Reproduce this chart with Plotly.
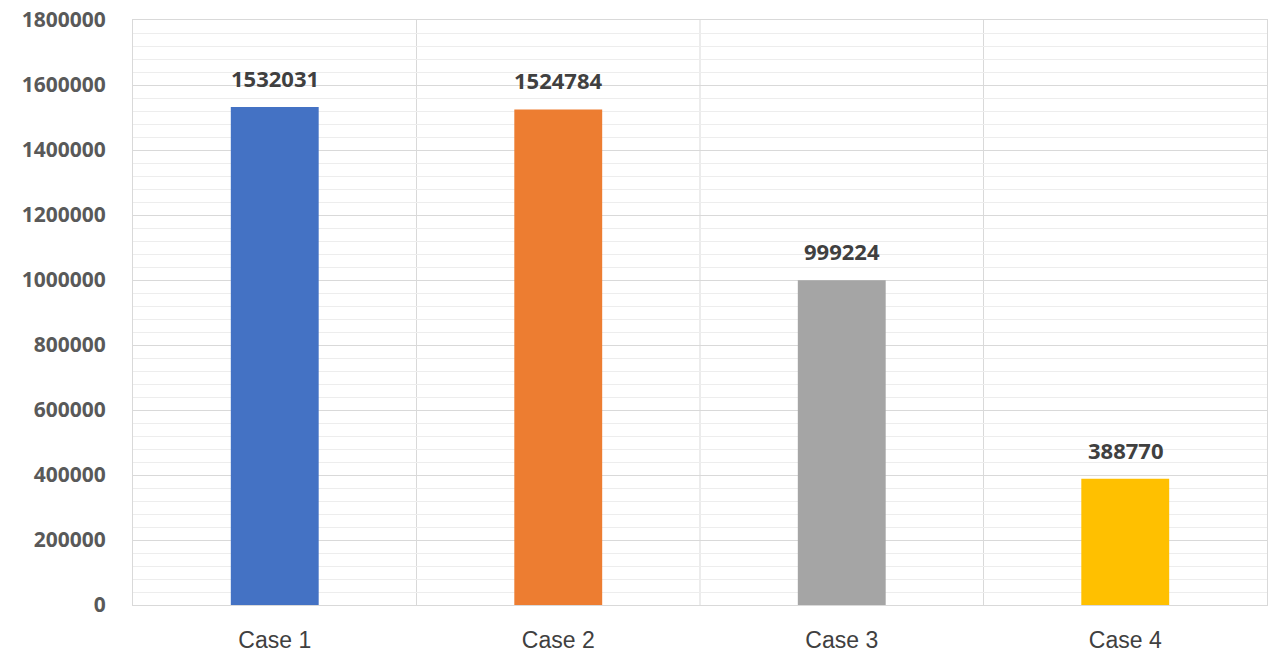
import plotly.graph_objects as go

categories = ["Case 1", "Case 2", "Case 3", "Case 4"]
values = [1532031, 1524784, 999224, 388770]
colors = ["#4472C4", "#ED7D31", "#A5A5A5", "#FFC000"]
y_ticks = [0, 200000, 400000, 600000, 800000, 1000000, 1200000, 1400000, 1600000, 1800000]

fig = go.Figure()
fig.add_trace(go.Bar(
    x=categories, y=values, marker_color=colors, width=0.31,
    marker_line_width=0, showlegend=False,
))

for c, v in zip(categories, values):
    fig.add_annotation(
        x=c, y=v, text=str(v), showarrow=False,
        yanchor="bottom", yshift=12,
        font=dict(family="Open Sans", size=22, color="#404040", weight=700),
    )

fig.update_layout(
    width=1269, height=657,
    margin=dict(l=133, r=2, t=20, b=52),
    plot_bgcolor="white", paper_bgcolor="white",
    bargap=0.69,
)
fig.update_xaxes(
    showgrid=False, showline=True, linecolor="#D9D9D9", linewidth=1, mirror=True,
    tickfont=dict(family="Liberation Sans", size=23, color="#404040"),
    ticks="outside", ticklen=0, ticklabelstandoff=14,
)
# vertical separators between categories
for xb in [0.5, 1.5, 2.5]:
    fig.add_shape(type="line", xref="x", yref="paper", x0=xb, x1=xb, y0=0, y1=1,
                  line=dict(color="#D9D9D9", width=1), layer="below")
fig.update_yaxes(
    range=[0, 1800000], tickvals=y_ticks, ticktext=[str(t) for t in y_ticks],
    showgrid=True, gridcolor="#D9D9D9", gridwidth=1,
    minor=dict(dtick=40000, showgrid=True, gridcolor="#EDEDED", gridwidth=1),
    showline=True, linecolor="#D9D9D9", linewidth=1, mirror=True,
    zeroline=False,
    tickfont=dict(family="Open Sans", size=21, color="#595959", weight=700),
    ticks="outside", ticklen=0, ticklabelstandoff=22,
)

fig.write_html("out.html")
